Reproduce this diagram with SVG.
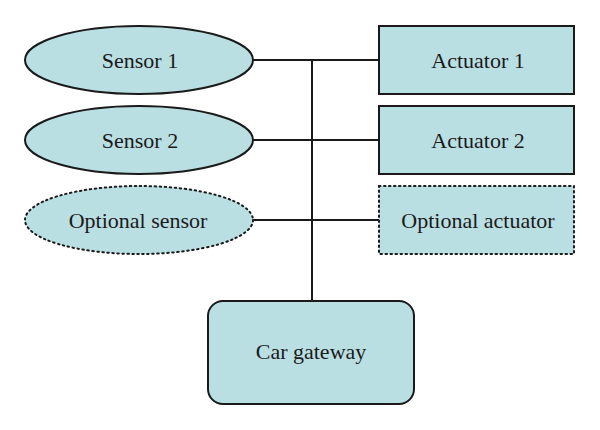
<svg xmlns="http://www.w3.org/2000/svg" width="600" height="430" viewBox="0 0 600 430">
<style>
.n{fill:#badfe3;stroke:#1a1a1a;stroke-width:2}
.d{stroke-dasharray:1.5 3.5;stroke-width:2;stroke-linecap:round}
.t{font-family:"Liberation Serif",serif;font-size:22px;fill:#1a1a1a;text-anchor:middle}
.c{stroke:#1a1a1a;stroke-width:2;fill:none}
</style>
<rect width="600" height="430" fill="#fff"/>
<g id="connectors">
<line class="c" x1="253" y1="60" x2="379" y2="60"/>
<line class="c" x1="253" y1="140" x2="379" y2="140"/>
<line class="c" x1="253" y1="220" x2="379" y2="220"/>
<line class="c" x1="312" y1="60" x2="312" y2="301"/>
</g>
<g id="sensor1"><ellipse class="n" cx="139" cy="60" rx="114" ry="34"/><text class="t" x="140" y="68">Sensor 1</text></g>
<g id="sensor2"><ellipse class="n" cx="139" cy="140" rx="114" ry="34"/><text class="t" x="140" y="148">Sensor 2</text></g>
<g id="optional-sensor"><ellipse class="n d" cx="139" cy="220" rx="114" ry="34"/><text class="t" x="138" y="228">Optional sensor</text></g>
<g id="actuator1"><rect class="n" x="379" y="26" width="195" height="68"/><text class="t" x="478" y="68">Actuator 1</text></g>
<g id="actuator2"><rect class="n" x="379" y="106" width="195" height="68"/><text class="t" x="478" y="148">Actuator 2</text></g>
<g id="optional-actuator"><rect class="n d" x="379" y="186" width="195" height="68"/><text class="t" x="478" y="228">Optional actuator</text></g>
<g id="car-gateway"><rect class="n" x="208" y="301" width="206" height="103" rx="15"/><text class="t" x="311" y="359">Car gateway</text></g>
</svg>
